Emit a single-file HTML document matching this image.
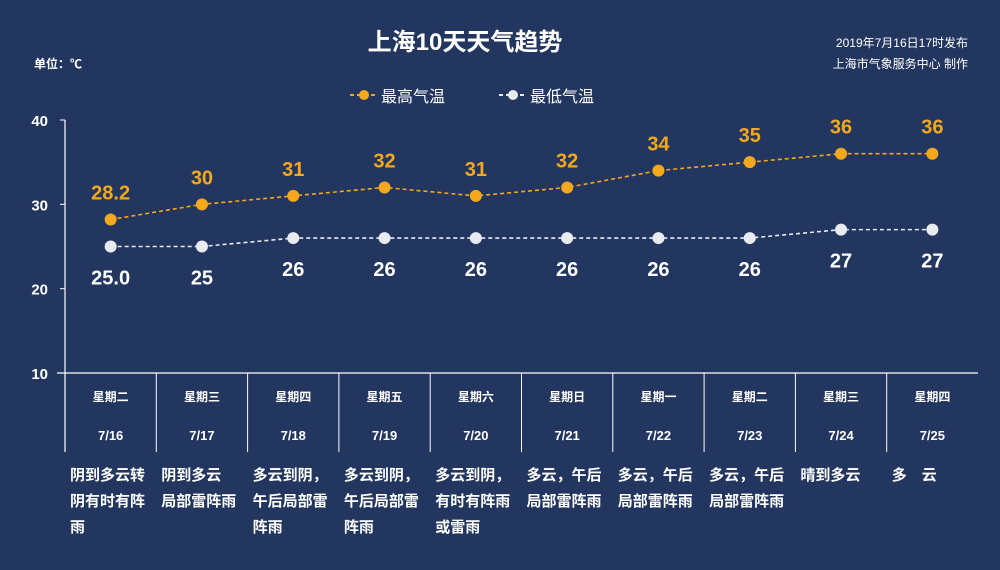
<!DOCTYPE html>
<html><head><meta charset="utf-8"><style>
body{margin:0;width:1000px;height:570px;background:#22365f;overflow:hidden;font-family:"Liberation Sans","Noto Sans CJK SC",sans-serif;color:#fff}
svg{position:absolute;left:0;top:0}
</style></head><body>
<svg width="1000" height="570" id="c">
<text x="465" y="50" text-anchor="middle" font-size="24" font-weight="bold" fill="#fff">上海10天天气趋势</text>
<text x="34" y="68" font-size="12" font-weight="bold" fill="#fff">单位：℃</text>
<text x="968" y="47" text-anchor="end" font-size="12" fill="#fff">2019年7月16日17时发布</text>
<text x="968" y="68" text-anchor="end" font-size="12" fill="#fff">上海市气象服务中心 制作</text>
<g><line x1="350" y1="95" x2="378" y2="95" stroke="#f5a81c" stroke-width="2" stroke-dasharray="4,3"/><circle cx="364" cy="95" r="5" fill="#f5a81c"/><text x="381" y="102" font-size="16" fill="#fff">最高气温</text></g>
<g><line x1="499" y1="95" x2="527" y2="95" stroke="#e8ecf2" stroke-width="2" stroke-dasharray="4,3"/><circle cx="513" cy="95" r="5" fill="#e8ecf2"/><text x="530" y="102" font-size="16" fill="#fff">最低气温</text></g>
<g id="g"></g>
</svg>
<script>
const dates=["7/16","7/17","7/18","7/19","7/20","7/21","7/22","7/23","7/24","7/25"];
const weekdays=["星期二","星期三","星期四","星期五","星期六","星期日","星期一","星期二","星期三","星期四"];
const highs=[28.2,30,31,32,31,32,34,35,36,36];
const lows=[25.0,25,26,26,26,26,26,26,27,27];
const highLabels=["28.2","30","31","32","31","32","34","35","36","36"];
const lowLabels=["25.0","25","26","26","26","26","26","26","27","27"];
const yTicks=[10,20,30,40];
const weather=[["阴到多云转","阴有时有阵","雨"],["阴到多云","局部雷阵雨"],["多云到阴，","午后局部雷","阵雨"],["多云到阴，","午后局部雷","阵雨"],["多云到阴，","有时有阵雨","或雷雨"],["多云，午后","局部雷阵雨"],["多云，午后","局部雷阵雨"],["多云，午后","局部雷阵雨"],["晴到多云"],["多　云"]];
const X0=65,X1=978,colW=(X1-X0)/dates.length;
const xs=i=>X0+colW*(i+0.5);
const ys=v=>373-(v-10)*(373-120)/30;
const g=document.getElementById('g');const NS="http://www.w3.org/2000/svg";
function mk(t,a,txt){const e=document.createElementNS(NS,t);for(const k in a)e.setAttribute(k,a[k]);if(txt!=null)e.textContent=txt;g.appendChild(e);return e;}
let e;
e=mk('line',{x1:X0,y1:120,x2:X0,y2:452,stroke:'#fff','stroke-width':1.2});


e=mk('line',{x1:X0-8,y1:373,x2:X1,y2:373,stroke:'#fff','stroke-width':1.2});


yTicks.forEach(t=>{
 e=mk('text',{x:48,y:ys(t)+6,'text-anchor':'end','font-size':15,'font-weight':'bold',fill:'#fff'},t);
 
 
 mk('line',{x1:X0-5,y1:ys(t),x2:X0,y2:ys(t),stroke:'#fff'});
});
dates.forEach((d,i)=>{
 if(i>0){e=mk('line',{x1:X0+colW*i,y1:373,x2:X0+colW*i,y2:452,stroke:'#fff','stroke-width':1});
 
 }
 e=mk('text',{x:xs(i),y:401,'text-anchor':'middle','font-size':12,'font-weight':'bold',fill:'#fff'},weekdays[i]);
 
 
 e=mk('text',{x:xs(i),y:440,'text-anchor':'middle','font-size':13,'font-weight':'bold',fill:'#fff'},d);
 
 
 weather[i].forEach((l,j)=>{
  e=mk('text',{x:X0+colW*i+5,y:480+j*26,'font-size':15,'font-weight':'bold',fill:'#fff'},l);
  
  
 });
});
function series(vals,labels,color,name,dy){
 e=mk('polyline',{points:vals.map((v,i)=>xs(i)+','+ys(v)).join(' '),fill:'none',stroke:color,'stroke-width':1.6,'stroke-dasharray':'4,3'});
 
 
 vals.forEach((v,i)=>{
  e=mk('circle',{cx:xs(i),cy:ys(v),r:6,fill:color});
  
  
  e=mk('text',{x:xs(i),y:ys(v)+dy,'text-anchor':'middle','font-size':20,'font-weight':'bold',fill:color===ORANGE?ORANGE:'#fff'},labels[i]);
  
  
 });
}
const ORANGE='#f5a81c';
series(highs,highLabels,ORANGE,'high-temp',-20);
series(lows,lowLabels,'#e8ecf2','low-temp',38);
</script>
</body></html>
